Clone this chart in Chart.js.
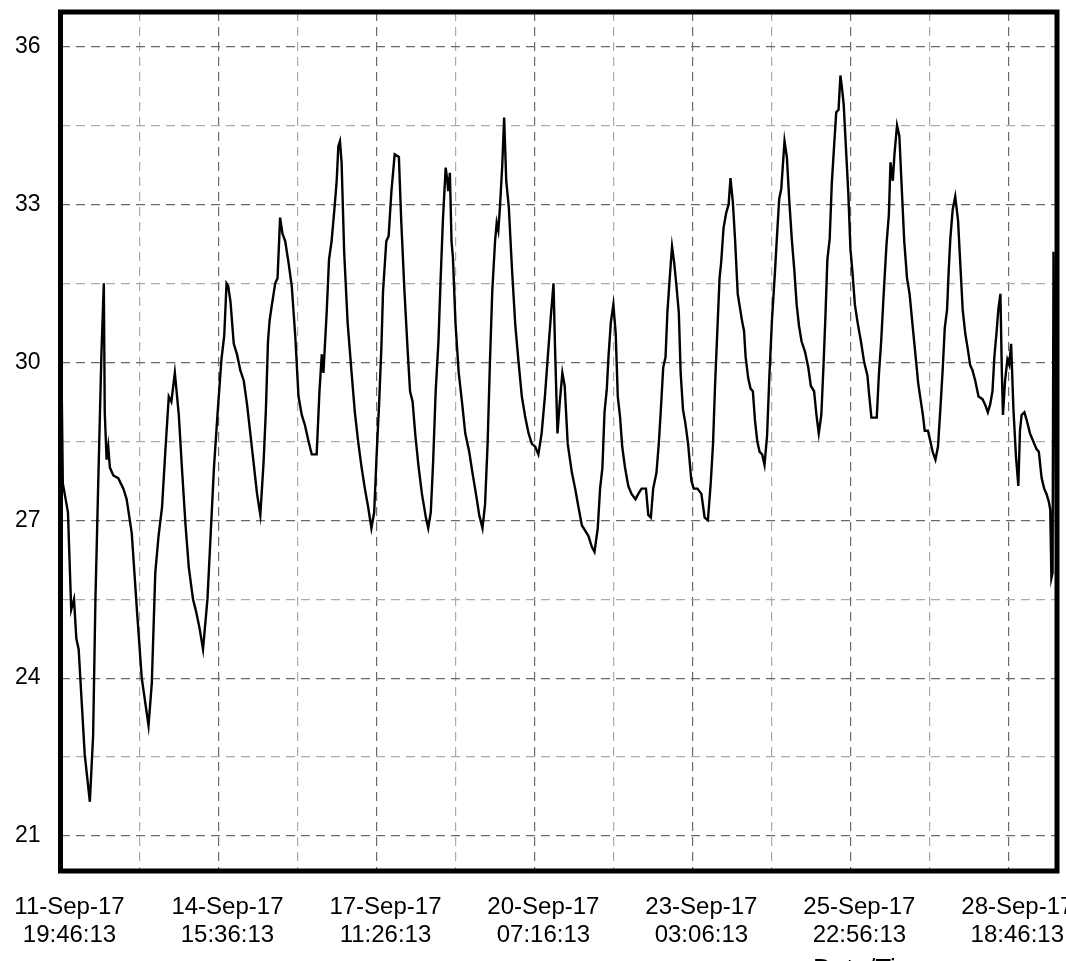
<!DOCTYPE html>
<html>
<head>
<meta charset="utf-8">
<script src="https://cdn.jsdelivr.net/npm/chart.js@4.4.1/dist/chart.umd.min.js"></script>
<style>
html, body { margin: 0; padding: 0; background: #fff; }
</style>
</head>
<body>
<canvas id="tempChart" width="1066" height="961"></canvas>
<script>
// hours since 11-Sep-17 19:46:13
const hours = [
    0.3, 1.0, 3.2, 4.6, 5.8, 6.8, 7.8, 8.9, 10.4, 12.6, 14.0, 15.0, 16.2, 17.6, 18.6, 19.0, 19.8, 20.5, 21.2, 22.7,
    24.8, 27.0, 28.4, 30.6, 32.8, 34.9, 37.8, 39.2, 40.7, 42.1, 43.6, 45.0, 46.5, 47.6, 49.1, 50.8, 52.2, 53.7, 55.1, 56.9,
    58.3, 59.7, 61.2, 63.1, 64.5, 65.9, 67.4, 69.1, 70.3, 71.3, 72.0, 73.0, 74.4, 75.8, 77.2, 78.7, 80.1, 81.5, 82.9, 84.4,
    85.8, 87.2, 88.2, 89.1, 89.8, 90.8, 92.2, 93.2, 94.3, 95.3, 96.5, 97.9, 99.3, 100.8, 102.2, 103.6, 105.0, 106.5, 107.9, 110.0,
    111.2, 112.2, 112.9, 114.3, 115.3, 116.4, 117.6, 118.6, 119.3, 120.0, 120.7, 121.8, 123.3, 125.0, 126.4, 127.8, 129.3, 130.7, 132.1, 133.5,
    134.7, 135.7, 136.8, 137.8, 138.5, 139.9, 140.9, 142.1, 143.5, 145.3, 146.3, 147.7, 149.1, 150.1, 151.2, 152.4, 153.8, 155.2, 156.9, 157.9,
    159.0, 160.0, 161.1, 162.3, 163.2, 164.2, 165.4, 166.1, 166.5, 167.2, 167.9, 168.5, 169.6, 171.0, 172.4, 173.8, 175.5, 176.9, 178.4, 179.8,
    181.2, 182.3, 183.4, 184.4, 185.4, 186.6, 187.3, 188.0, 188.7, 189.7, 190.5, 191.4, 192.5, 193.9, 195.3, 196.7, 198.1, 199.6, 201.0, 202.4,
    203.8, 205.2, 206.6, 208.0, 209.4, 210.6, 211.7, 212.4, 213.4, 214.4, 215.5, 216.5, 217.8, 219.6, 221.0, 222.4, 223.9, 225.3, 226.7, 228.1,
    229.3, 230.7, 231.7, 232.7, 233.6, 234.6, 235.3, 236.3, 237.4, 238.4, 239.3, 240.3, 241.2, 242.4, 243.8, 245.2, 246.9, 248.1, 249.5, 251.4,
    252.4, 253.5, 254.5, 255.9, 256.9, 257.8, 258.8, 259.8, 260.6, 261.6, 262.6, 263.5, 264.5, 265.5, 266.3, 267.3, 268.3, 269.5, 270.9, 271.9,
    273.5, 275.2, 276.6, 278.0, 279.2, 280.2, 281.1, 282.0, 283.0, 283.7, 284.7, 285.9, 286.9, 287.7, 288.7, 289.7, 290.8, 292.8, 293.5, 294.2,
    295.3, 296.3, 297.3, 298.2, 299.2, 300.2, 301.3, 302.3, 303.4, 304.4, 305.5, 306.7, 307.6, 308.6, 309.5, 310.2, 310.9, 311.9, 312.9, 314.0,
    315.1, 316.1, 317.1, 318.2, 319.7, 321.1, 322.2, 323.6, 324.6, 325.6, 326.7, 327.6, 328.4, 329.3, 330.3, 331.2, 332.1, 333.1, 334.1, 334.9,
    335.6, 336.3, 337.3, 338.3, 339.2, 340.1, 341.1, 342.3, 343.7, 345.1, 346.5, 347.2, 348.2, 350.5, 351.4, 352.4, 353.6, 354.7, 355.7, 356.4,
    357.4, 358.1, 359.2, 360.2, 361.3, 362.3, 363.5, 364.6, 366.0, 367.1, 368.3, 369.3, 370.3, 371.1, 372.5, 373.5, 374.5, 375.7, 376.8, 377.8,
    378.8, 379.7, 380.7, 381.4, 382.1, 383.1, 384.2, 385.4, 386.4, 387.4, 388.5, 389.6, 390.6, 391.6, 392.8, 394.2, 395.9, 397.0, 398.2, 399.2,
    400.2, 401.0, 402.0, 402.7, 403.6, 404.2, 404.7, 405.6, 406.6, 407.4, 408.2, 409.2, 410.3, 411.3, 412.0, 412.7, 413.9, 414.9, 416.3, 417.7,
    419.1, 420.1, 421.3, 422.4, 423.4, 424.4, 425.0, 425.5, 426.0, 426.4, 427.2, 427.8
];

const temps = [
    30.3, 27.7, 27.15, 25.3, 25.5, 24.75, 24.55, 23.7, 22.55, 21.65, 22.9, 25.5, 27.7, 30.2, 31.5, 29.05, 28.15, 28.4, 28.0, 27.85,
    27.8, 27.6, 27.4, 26.75, 25.3, 24.0, 23.1, 23.9, 26.0, 26.7, 27.25, 28.3, 29.35, 29.25, 29.8, 29.0, 27.95, 26.9, 26.1, 25.5,
    25.25, 24.95, 24.55, 25.5, 26.75, 28.0, 29.0, 30.05, 30.5, 31.5, 31.45, 31.15, 30.35, 30.15, 29.85, 29.65, 29.2, 28.65, 28.1, 27.5,
    27.1, 28.1, 29.1, 30.4, 30.8, 31.1, 31.5, 31.6, 32.75, 32.45, 32.3, 31.9, 31.45, 30.5, 29.35, 29.0, 28.8, 28.5, 28.25, 28.25,
    29.45, 30.15, 29.8, 30.95, 31.95, 32.3, 32.9, 33.45, 34.1, 34.2, 33.8, 32.1, 30.75, 29.8, 29.05, 28.5, 28.0, 27.6, 27.25, 26.85,
    27.15, 28.2, 29.2, 30.3, 31.35, 32.3, 32.4, 33.25, 33.95, 33.9, 32.7, 31.35, 30.2, 29.45, 29.25, 28.6, 28.0, 27.5, 27.05, 26.85,
    27.15, 28.1, 29.45, 30.4, 31.55, 32.7, 33.7, 33.45, 33.25, 33.6, 32.3, 32.0, 30.75, 29.8, 29.25, 28.65, 28.3, 27.9, 27.5, 27.1,
    26.85, 27.3, 28.45, 30.0, 31.35, 32.3, 32.65, 32.5, 32.95, 33.75, 34.65, 33.45, 32.95, 31.75, 30.7, 30.0, 29.35, 28.95, 28.65, 28.45,
    28.4, 28.25, 28.65, 29.35, 30.2, 30.9, 31.5, 30.2, 28.65, 29.25, 29.8, 29.55, 28.45, 27.9, 27.6, 27.25, 26.9, 26.8, 26.7, 26.5,
    26.4, 26.85, 27.6, 28.0, 29.05, 29.5, 30.1, 30.75, 31.1, 30.55, 29.35, 28.95, 28.4, 28.0, 27.65, 27.5, 27.4, 27.5, 27.6, 27.6,
    27.1, 27.05, 27.6, 27.9, 28.45, 29.1, 29.9, 30.1, 30.95, 31.6, 32.2, 31.9, 31.45, 30.95, 29.8, 29.1, 28.85, 28.45, 27.75, 27.6,
    27.6, 27.5, 27.05, 27.0, 27.7, 28.45, 29.6, 30.55, 31.6, 31.9, 32.55, 32.85, 33.0, 33.5, 33.05, 32.3, 31.3, 30.75, 30.6, 30.1,
    29.7, 29.5, 29.45, 28.9, 28.5, 28.3, 28.25, 28.05, 28.6, 29.75, 30.8, 31.65, 32.35, 33.1, 33.3, 33.75, 34.2, 33.9, 33.1, 32.35,
    31.75, 31.1, 30.7, 30.4, 30.2, 29.9, 29.55, 29.45, 29.0, 28.65, 29.0, 29.9, 30.8, 31.95, 32.35, 33.4, 34.05, 34.75, 34.8, 35.45,
    35.2, 34.9, 34.05, 33.2, 32.15, 31.7, 31.1, 30.75, 30.4, 30.0, 29.75, 29.4, 28.95, 28.95, 29.75, 30.4, 31.4, 32.25, 32.8, 33.8,
    33.45, 33.95, 34.5, 34.3, 33.25, 32.3, 31.6, 31.3, 30.65, 30.15, 29.6, 29.3, 29.0, 28.7, 28.7, 28.5, 28.3, 28.15, 28.4, 29.1,
    29.85, 30.65, 31.0, 31.75, 32.35, 32.9, 33.15, 32.7, 31.85, 31.0, 30.55, 30.25, 29.95, 29.85, 29.65, 29.35, 29.3, 29.2, 29.05, 29.2,
    29.45, 30.1, 30.6, 31.0, 31.3, 29.85, 29.0, 29.65, 30.05, 29.95, 30.35, 29.1, 28.2, 27.65, 28.7, 29.0, 29.05, 28.9, 28.65, 28.5,
    28.35, 28.3, 27.8, 27.6, 27.5, 27.35, 27.2, 25.9, 26.0, 32.1, 28.5, 25.3
];

const xTickHours = [0, 33.92, 67.83, 101.75, 135.67, 169.58, 203.5, 237.42, 271.33, 305.25, 339.17, 373.08, 407];
const xTickLabels = [
    ['11-Sep-17', '19:46:13'],
    ['14-Sep-17', '15:36:13'],
    ['17-Sep-17', '11:26:13'],
    ['20-Sep-17', '07:16:13'],
    ['23-Sep-17', '03:06:13'],
    ['25-Sep-17', '22:56:13'],
    ['28-Sep-17', '18:46:13']
];
const yTicks = [21, 22.5, 24, 25.5, 27, 28.5, 30, 31.5, 33, 34.5, 36];

const fontFamily = "'Liberation Sans', Arial, sans-serif";
const majorGrid = '#6a6a6a';
const minorGrid = '#ababab';

let points = [];
for (let i = 0; i < hours.length; i++) {
    points.push({ x: hours[i], y: temps[i] });
}

// thick frame round the plot + the cut off axis title
const framePlugin = {
    id: 'frame',
    afterDraw(chart) {
        const a = chart.chartArea;
        const ctx = chart.ctx;
        ctx.save();
        ctx.lineWidth = 5;
        ctx.strokeStyle = '#000';
        ctx.strokeRect(a.left, a.top, a.right - a.left, a.bottom - a.top);
        ctx.fillStyle = '#000';
        ctx.font = '26px ' + fontFamily;
        ctx.textAlign = 'left';
        ctx.textBaseline = 'alphabetic';
        ctx.fillText('Date/Time', 813, 977);
        ctx.restore();
    }
};

new Chart(document.getElementById('tempChart'), {
    type: 'line',
    data: {
        datasets: [{
            data: points,
            borderColor: '#000',
            borderWidth: 2.4,
            pointRadius: 0,
            tension: 0,
            fill: false
        }]
    },
    options: {
        responsive: false,
        animation: false,
        layout: { padding: { top: 12, right: 9, left: 0, bottom: 0 } },
        plugins: {
            legend: { display: false },
            tooltip: { enabled: false }
        },
        scales: {
            x: {
                type: 'linear',
                min: 0,
                max: 427.9,
                afterBuildTicks: s => { s.ticks = xTickHours.map(v => ({ value: v })); },
                afterFit: s => { s.height = 90; s.paddingLeft = 0; s.paddingRight = 0; },
                grid: {
                    color: c => (c.index % 2 ? minorGrid : majorGrid),
                    lineWidth: 1.2,
                    drawTicks: false
                },
                border: { display: false, dash: [9, 6] },
                ticks: {
                    autoSkip: false,
                    maxRotation: 0,
                    padding: 22,
                    labelOffset: 9,
                    color: '#000',
                    font: { family: fontFamily, size: 24, lineHeight: 1.17 },
                    callback: (v, i) => (i % 2 ? '' : xTickLabels[i / 2])
                }
            },
            y: {
                min: 20.335,
                max: 36.656,
                afterBuildTicks: s => { s.ticks = yTicks.map(v => ({ value: v })); },
                afterFit: s => { s.width = 60.5; s.paddingTop = 0; s.paddingBottom = 0; },
                grid: {
                    color: c => (c.tick && c.tick.value % 3 === 0 ? majorGrid : minorGrid),
                    lineWidth: 1.2,
                    drawTicks: false
                },
                border: { display: false, dash: [9, 6] },
                ticks: {
                    padding: 20,
                    color: '#000',
                    font: { family: fontFamily, size: 23 },
                    callback: v => (v % 3 === 0 ? v : '')
                }
            }
        }
    },
    plugins: [framePlugin]
});
</script>
</body>
</html>
